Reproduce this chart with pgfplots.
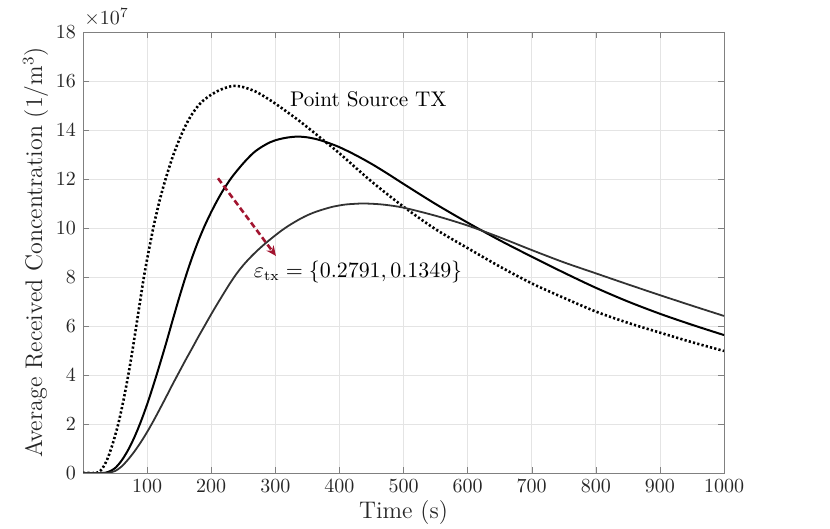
\documentclass[border=0pt]{standalone}
\usepackage{pgfplots}
\pgfplotsset{compat=1.18}
\usetikzlibrary{arrows.meta}
\definecolor{axgray}{RGB}{128,128,128}
\definecolor{tickgray}{RGB}{38,38,38}
\definecolor{gridgray}{RGB}{228,228,228}
\definecolor{curvegray}{RGB}{50,50,50}
\definecolor{arrowred}{RGB}{162,20,47}
\begin{document}
\begin{tikzpicture}
\useasboundingbox (-41.5pt,-28pt) rectangle (373.5pt,236.5pt);
\begin{axis}[
  scale only axis,
  width=320.5pt, height=220.5pt,
  xmin=0, xmax=1000, ymin=0, ymax=18,
  xtick={100,200,300,400,500,600,700,800,900,1000},
  ytick={0,2,4,6,8,10,12,14,16,18},
  xticklabel style={/pgf/number format/1000 sep={}},
  tick align=inside,
  major tick length=3pt,
  axis line style={axgray},
  tick style={axgray},
  xmajorgrids, ymajorgrids,
  grid style={gridgray, line width=0.4pt},
  ticklabel style={font=\normalsize, text=tickgray},
  xlabel={Time (s)},
  ylabel={Average Received Concentration ($1/\mathrm{m}^3$)},
  label style={font=\large, text=tickgray},
  xlabel style={yshift=3pt},
  ylabel style={yshift=-3pt},
  clip=true,
]
% dotted: point source TX
\addplot[black, line width=1.3pt, dash pattern=on 1.1pt off 1.1pt, smooth, tension=0.5] coordinates {
(0,0) (20,0) (25,0.04) (30,0.18) (35,0.4) (40,0.7) (47,1.25) (55,2.0) (63,2.95)
(71,4.05) (77,4.98) (83,5.98) (89,7.0) (95,8.0) (100,8.72) (110,10.05) (120,11.17)
(130,12.1) (142,13.06) (155,13.9) (164,14.38) (172,14.72) (180,15.0) (188,15.21)
(200,15.44) (215,15.65) (234,15.8) (250,15.75) (270,15.56) (290,15.25) (307,14.95)
(340,14.32) (378,13.52) (400,13.05) (450,11.9) (500,10.87) (550,9.95) (600,9.18)
(650,8.43) (700,7.74) (750,7.15) (800,6.59) (850,6.13) (900,5.73) (950,5.34) (1000,4.98)
};
% solid black
\addplot[black, line width=1pt, smooth, tension=0.5] coordinates {
(0,0) (30,0) (40,0.05) (50,0.2) (60,0.5) (70,0.92) (80,1.45) (90,2.08) (100,2.8)
(110,3.6) (120,4.45) (130,5.33) (140,6.25) (150,7.15) (160,8.0) (170,8.78) (180,9.48)
(190,10.1) (200,10.65) (210,11.15) (220,11.6) (233,12.1) (250,12.64) (266,13.07)
(280,13.33) (292,13.5) (300,13.58) (312,13.66) (324,13.71) (336,13.73) (350,13.7)
(365,13.62) (380,13.5) (400,13.3) (425,12.98) (450,12.62) (475,12.22) (500,11.8)
(550,10.98) (600,10.22) (650,9.5) (700,8.83) (750,8.18) (800,7.56) (850,7.0)
(900,6.5) (950,6.05) (1000,5.63)
};
% solid gray
\addplot[curvegray, line width=0.9pt, smooth, tension=0.5] coordinates {
(0,0) (35,0) (40,0.01) (50,0.08) (60,0.26) (70,0.54) (80,0.87) (90,1.25) (100,1.67)
(110,2.13) (120,2.62) (130,3.12) (140,3.63) (150,4.12) (160,4.61) (170,5.08)
(180,5.56) (190,6.02) (200,6.48) (210,6.92) (220,7.35) (230,7.77) (240,8.15)
(250,8.48) (260,8.77) (270,9.03) (280,9.27) (290,9.49) (300,9.7) (310,9.9)
(320,10.08) (330,10.24) (340,10.39) (350,10.52) (360,10.63) (370,10.72) (380,10.8)
(390,10.87) (400,10.92) (410,10.96) (420,10.98) (435,11.0) (450,10.99) (470,10.95)
(500,10.83) (550,10.5) (600,10.1) (650,9.62) (700,9.1) (750,8.6) (800,8.15)
(850,7.7) (900,7.26) (950,6.83) (1000,6.41)
};
% arrow
\addplot[arrowred, line width=1.3pt, dash pattern=on 3pt off 1.6pt,
  -{Stealth[length=5pt,width=4.5pt]}] coordinates {(210.6,12.03) (301,8.86)};
\node[font=\fontsize{10.6pt}{13pt}\selectfont, text=black] at (axis cs:445,15.27) {Point Source TX};
\node[font=\fontsize{10.6pt}{13pt}\selectfont, text=black] at (axis cs:429,8.2) {$\varepsilon_{\mathrm{tx}}=\{0.2791,0.1349\}$};
\end{axis}
\node[anchor=south west, inner sep=0pt, text=tickgray, font=\normalsize] at (0.5pt,223pt) {$\times 10^{7}$};
\end{tikzpicture}
\end{document}
